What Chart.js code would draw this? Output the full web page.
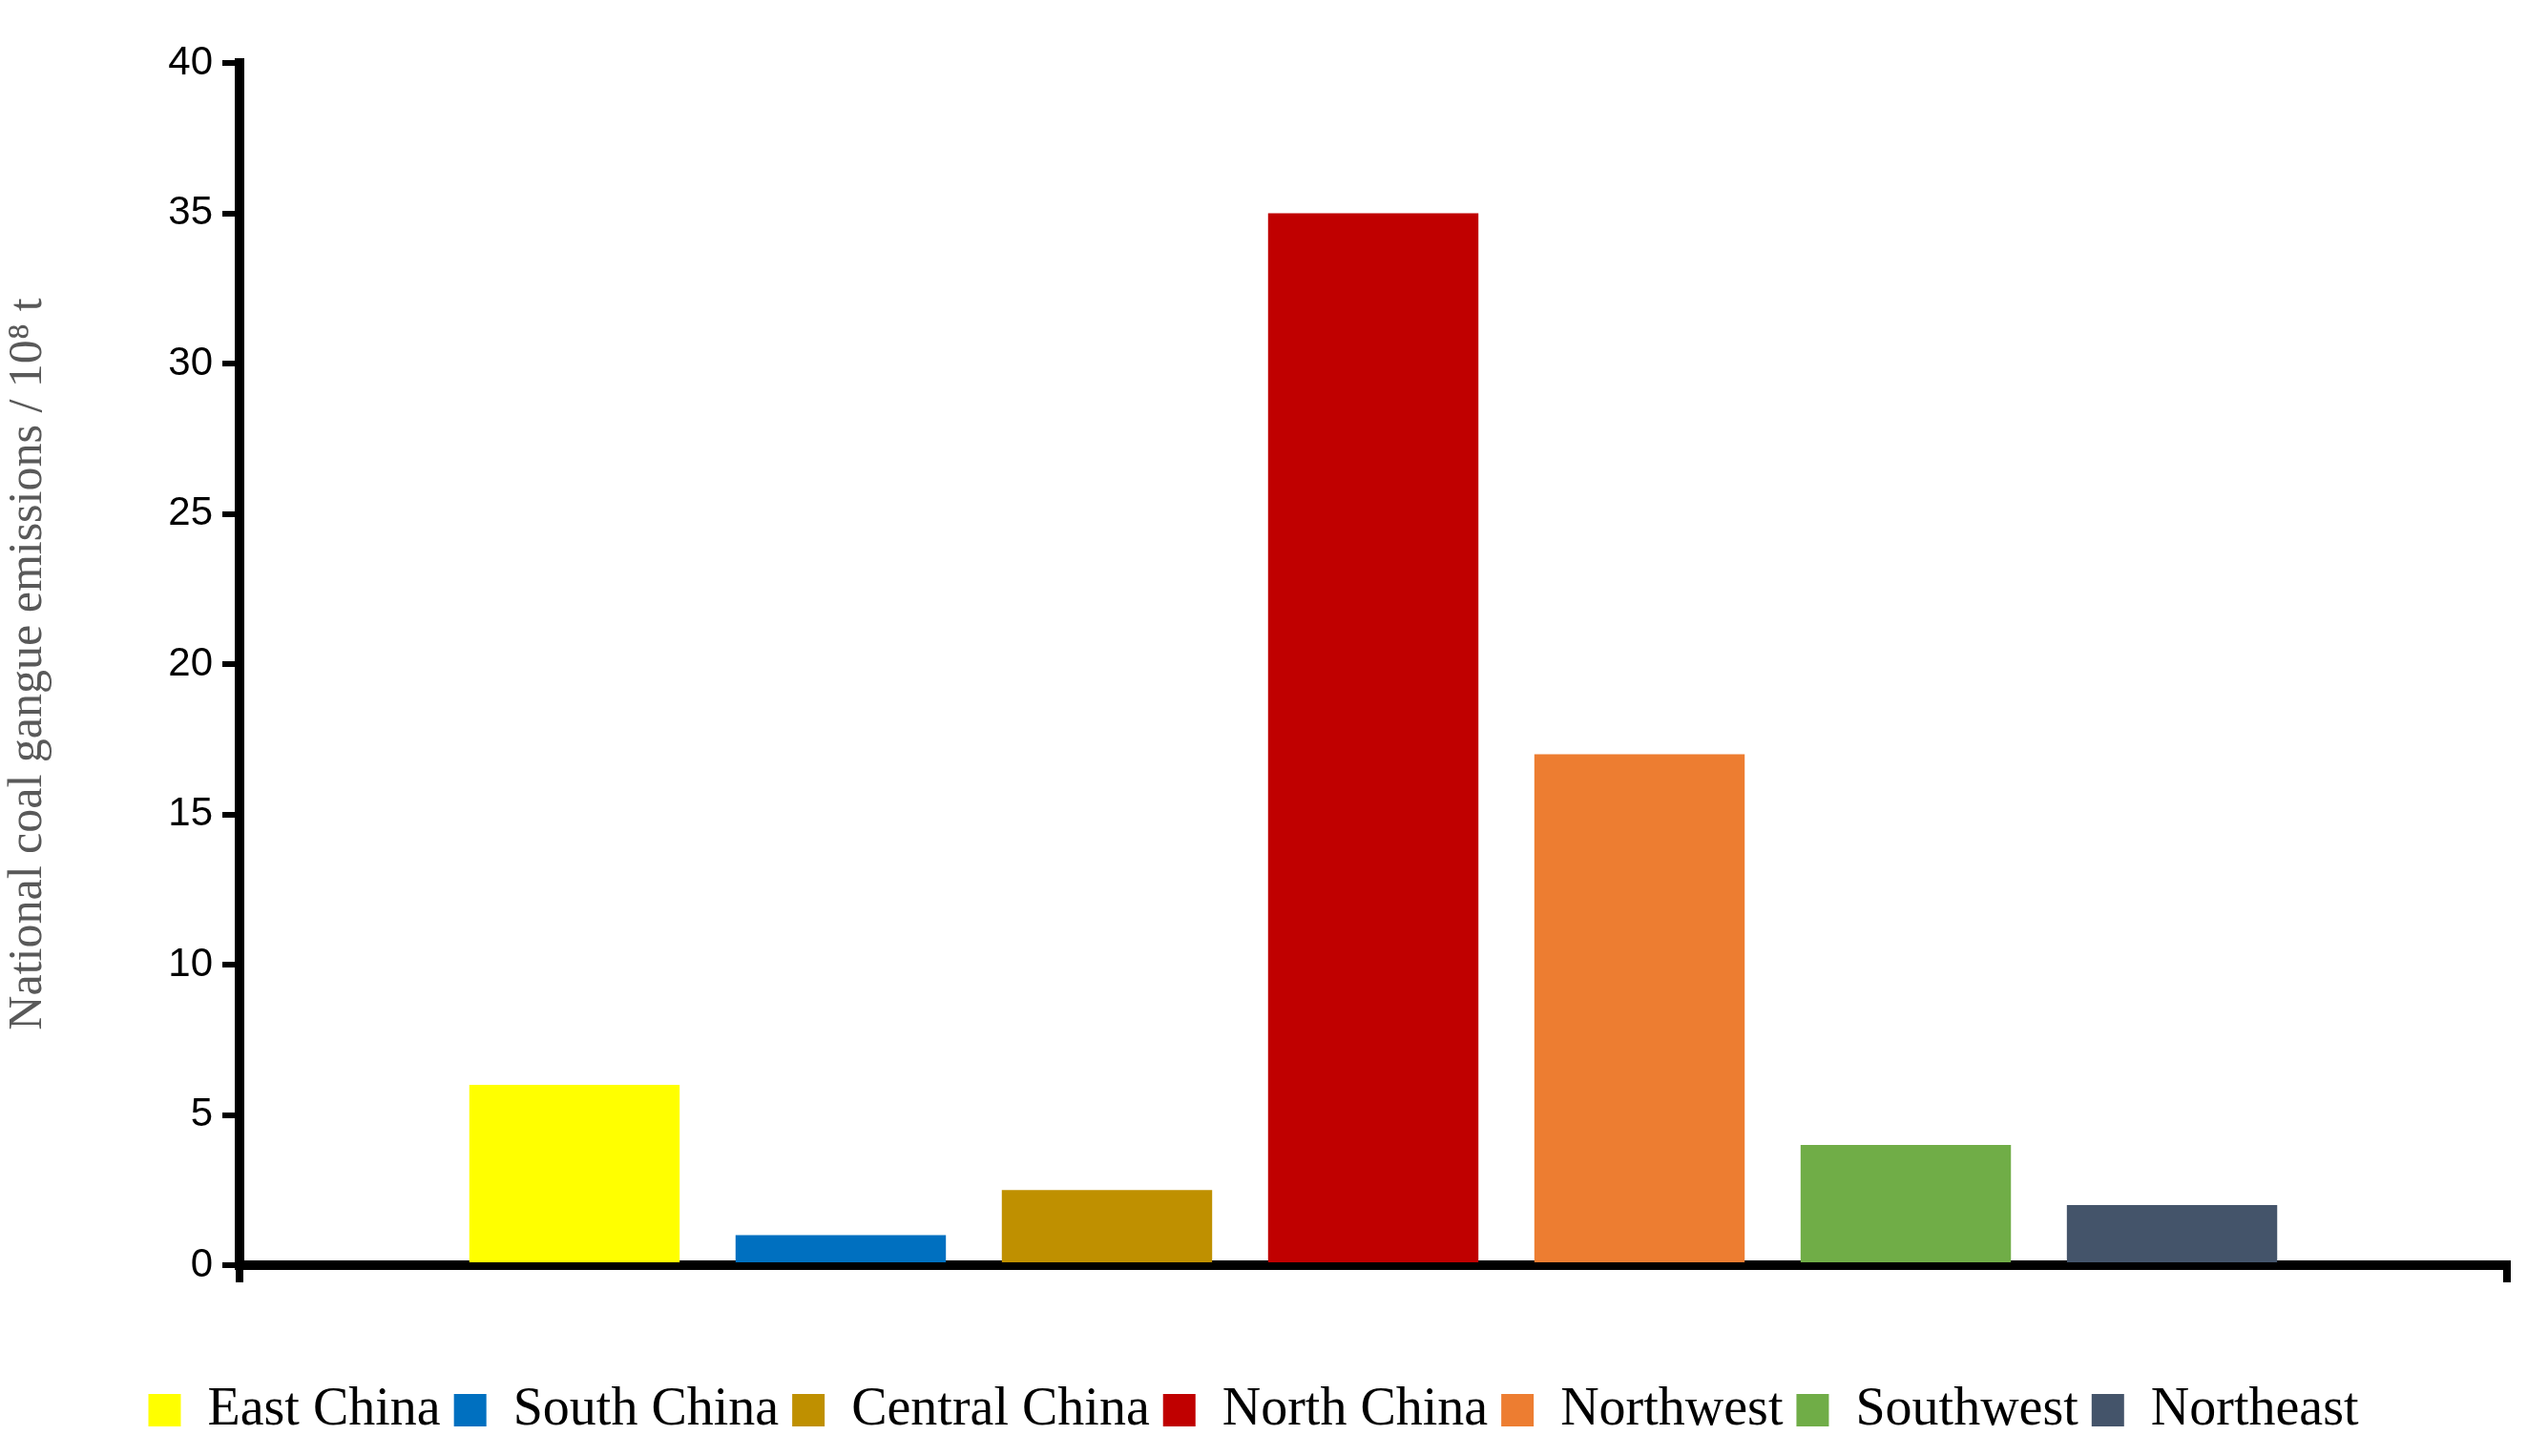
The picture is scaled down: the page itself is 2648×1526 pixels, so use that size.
<!DOCTYPE html>
<html><head><meta charset="utf-8">
<script src="https://cdn.jsdelivr.net/npm/chart.js@4"></script>
<style>html,body{margin:0;background:#fff}#w{width:2648px;height:1526px}</style>
</head><body><div id="w"><canvas id="c"></canvas></div>
<script>
const regions = ["East China","South China","Central China","North China","Northwest","Southwest","Northeast"];
const emissions = [6, 1, 2.5, 35, 17, 4, 2];
const colors = ["#FFFF00","#0070C0","#BF9000","#C00000","#ED7D31","#70AD47","#44546A"];
const yTicks = [0,5,10,15,20,25,30,35,40];

const datasets = regions.map((r,i)=>({label:r,data:[emissions[i]],backgroundColor:colors[i],borderWidth:0}));

new Chart(document.getElementById('c'),{
  type:'bar',
  data:{labels:[''],datasets},
  options:{
    responsive:true,maintainAspectRatio:false,animation:false,
    devicePixelRatio:1,
    layout:{padding:{left:0,top:66,right:21,bottom:10}},
    datasets:{bar:{categoryPercentage:0.822,barPercentage:0.79}},
    plugins:{
      tooltip:{enabled:false},
      legend:{position:'bottom',labels:{font:{family:'Liberation Serif',size:56},color:'#000',boxWidth:34,boxHeight:34,padding:14}}
    },
    scales:{
      x:{
        grid:{offset:true,drawOnChartArea:false,drawTicks:true,tickLength:18,color:'#000',lineWidth:8},
        border:{display:true,color:'#000',width:10},
        ticks:{display:false},
        afterFit:s=>{s.height=110;}
      },
      y:{
        min:0,max:40,
        afterBuildTicks:s=>{s.ticks=yTicks.map(v=>({value:v}));},
        grid:{drawOnChartArea:false,drawTicks:true,tickLength:18,color:'#000',lineWidth:6},
        border:{display:true,color:'#000',width:10},
        ticks:{font:{family:'Liberation Sans',size:42},color:'#000',padding:10},
        title:{display:true,text:'National coal gangue emissions / 10⁸ t',font:{family:'Liberation Serif',size:50},color:'#595959',padding:{top:0,bottom:30}},
        afterFit:s=>{s.width=251;}
      }
    }
  }
});
</script></body></html>
